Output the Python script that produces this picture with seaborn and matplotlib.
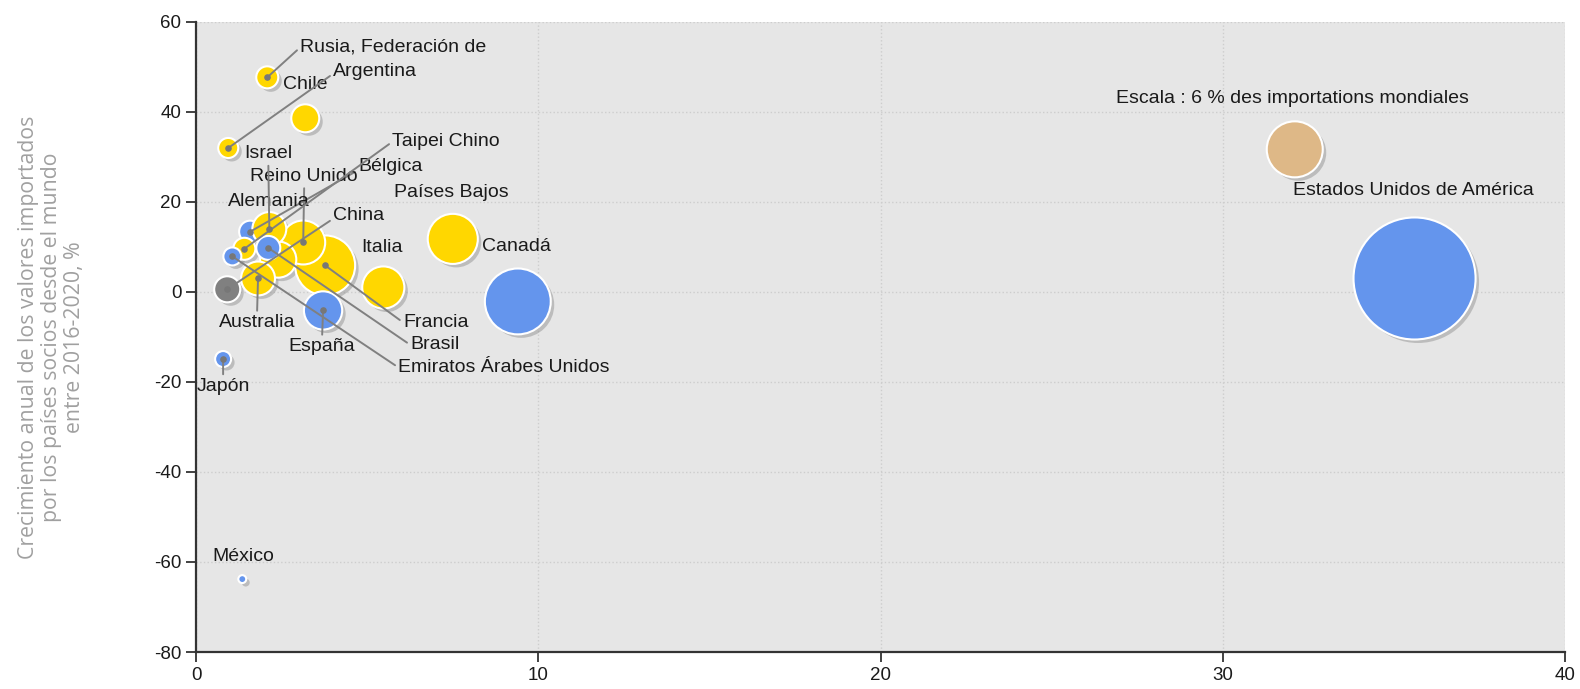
import numpy as np
import pandas as pd
import seaborn as sns
import matplotlib.pyplot as plt
import matplotlib.transforms as mtransforms

# datos (orden = orden de dibujo)
paises = ["Estados Unidos de América", "Canadá", "Bélgica", "Francia", "Países Bajos",
          "Reino Unido", "Italia", "España", "Alemania", "Israel", "Australia", "Chile",
          "China", "Brasil", "Rusia, Federación de", "Taipei Chino", "Argentina",
          "Emiratos Árabes Unidos", "Japón", "México"]
cuota_x = [35.6, 9.4, 1.58, 3.77, 7.5, 3.13, 5.47, 3.71, 2.40, 2.14, 1.81, 3.19,
           0.91, 2.11, 2.08, 1.41, 0.94, 1.06, 0.79, 1.35]
crecimiento = [3.0, -2.1, 13.4, 5.9, 11.8, 11.0, 1.0, -4.1, 7.2, 14.0, 3.0, 38.6,
               0.6, 9.8, 47.7, 9.6, 32.0, 7.9, -14.9, -63.8]
importaciones = [28.5, 8.3, 0.93, 6.9, 4.8, 3.7, 3.4, 2.8, 2.5, 2.2, 2.2, 1.5,
                 1.3, 1.1, 0.93, 0.93, 0.77, 0.62, 0.49, 0.12]
grupo = ["azul", "azul", "azul", "amarillo", "amarillo", "amarillo", "amarillo", "azul",
         "amarillo", "amarillo", "amarillo", "amarillo", "gris", "azul", "amarillo",
         "amarillo", "amarillo", "azul", "azul", "azul"]

escala_texto = "Escala : 6 % des importations mondiales"
escala_x, escala_y, escala_valor = 32.1, 31.7, 6

colores = {"azul": "#6495ED", "amarillo": "#FFD700", "gris": "#808080", "escala": "#DEB887"}

# posición de las etiquetas (px respecto al centro de la burbuja), alineación, línea guía
etiquetas = {
    "Estados Unidos de América": (-1, 88, "center", None),
    "Canadá": (-1, 55, "center", None),
    "Francia": (78, -57, "left", (0, 0.5)),
    "Países Bajos": (-1, 46, "center", None),
    "Reino Unido": (1, 66, "center", (0.5, 0)),
    "Italia": (-1, 40, "center", None),
    "España": (-1, -36, "center", (0.5, 1)),
    "Alemania": (-9, 58, "center", None),
    "Israel": (-1, 75, "center", (0.5, 0)),
    "Australia": (-1, -44, "center", (0.5, 1)),
    "Chile": (0, 34, "center", None),
    "China": (106, 74, "left", (0, 0.3)),
    "Brasil": (142, -97, "left", (0, 0.5)),
    "Rusia, Federación de": (33, 30, "left", (0, 0.5)),
    "Bélgica": (108, 65, "left", (0, 0.3)),
    "Taipei Chino": (148, 107, "left", (0, 0.5)),
    "Argentina": (105, 76, "left", (0, 0.4)),
    "Emiratos Árabes Unidos": (166, -111, "left", (0, 0.5)),
    "Japón": (0, -27, "center", (0.5, 1)),
    "México": (1, 23, "center", None),
}

df = pd.DataFrame({"pais": paises, "x": cuota_x, "y": crecimiento,
                   "importaciones": importaciones, "grupo": grupo})
escala = pd.DataFrame({"pais": [escala_texto], "x": [escala_x], "y": [escala_y],
                       "importaciones": [escala_valor], "grupo": ["escala"]})
df = pd.concat([escala, df], ignore_index=True)

sns.set_theme(style="darkgrid", rc={
    "axes.facecolor": "#E6E6E6",
    "grid.color": "#CDCDCD",
    "grid.linestyle": ":",
    "grid.linewidth": 1.0,
})
plt.rcParams["font.family"] = ["Liberation Sans", "DejaVu Sans"]
plt.rcParams["axes.unicode_minus"] = False

fig = plt.figure(figsize=(15.8, 6.89), dpi=100)
ax = fig.add_axes([0.1241, 0.0537, 0.8665, 0.9144])

# área proporcional a la cuota de importaciones
k = 271.0
smax = 30
sombra = ax.transData + mtransforms.ScaledTranslation(2.5 / 72, -2.5 / 72, fig.dpi_scale_trans)
ax.scatter(df["x"], df["y"], s=df["importaciones"] * k, color="#8a8a8a", alpha=0.45,
           linewidths=0, transform=sombra, zorder=2)

sns.scatterplot(data=df, x="x", y="y", hue="grupo", palette=colores,
                size="importaciones", sizes=(0, k * smax), size_norm=(0, smax),
                edgecolor="white", linewidth=1.5, legend=False, ax=ax, zorder=3)

for _, fila in df.iterrows():
    if fila["grupo"] == "escala":
        ax.annotate(fila["pais"], xy=(fila["x"], fila["y"]), xytext=(-1.5, 51 * 0.72),
                    textcoords="offset points", ha="center", va="center",
                    fontsize=14, color="#1a1a1a", zorder=6)
        continue
    dx, dy, ha, rel = etiquetas[fila["pais"]]
    props = None
    if rel is not None:
        props = dict(arrowstyle="-", color="#808080", lw=1.4, shrinkA=0, shrinkB=0,
                     relpos=rel)
        ax.scatter([fila["x"]], [fila["y"]], s=14, color="#777777", zorder=5)
    ax.annotate(fila["pais"], xy=(fila["x"], fila["y"]), xytext=(dx * 0.72, dy * 0.72),
                textcoords="offset points", ha=ha, va="center", fontsize=14,
                color="#1a1a1a", arrowprops=props, zorder=4)

ax.set_xlim(0, 40)
ax.set_ylim(-80, 60)
ax.set_xticks([0, 10, 20, 30, 40])
ax.set_yticks(np.arange(-80, 61, 20))
ax.set_xlabel("")
ax.set_ylabel("Crecimiento anual de los valores importados\n"
              "por los países socios desde el mundo\n"
              "entre 2016-2020, %", color="#A0A0A0", fontsize=15.3, linespacing=1.12,
              family=["Open Sans", "DejaVu Sans"])
ax.yaxis.set_label_coords(-0.081, 0.5)

for lado in ["top", "right"]:
    ax.spines[lado].set_visible(False)
for lado in ["left", "bottom"]:
    ax.spines[lado].set_visible(True)
    ax.spines[lado].set_color("#333333")
    ax.spines[lado].set_linewidth(1.6)
ax.tick_params(axis="both", direction="out", length=7, width=1.3, color="#333333",
               labelsize=13.5, labelcolor="#1a1a1a", left=True, bottom=True)

fig.savefig("out.png", dpi=100)
